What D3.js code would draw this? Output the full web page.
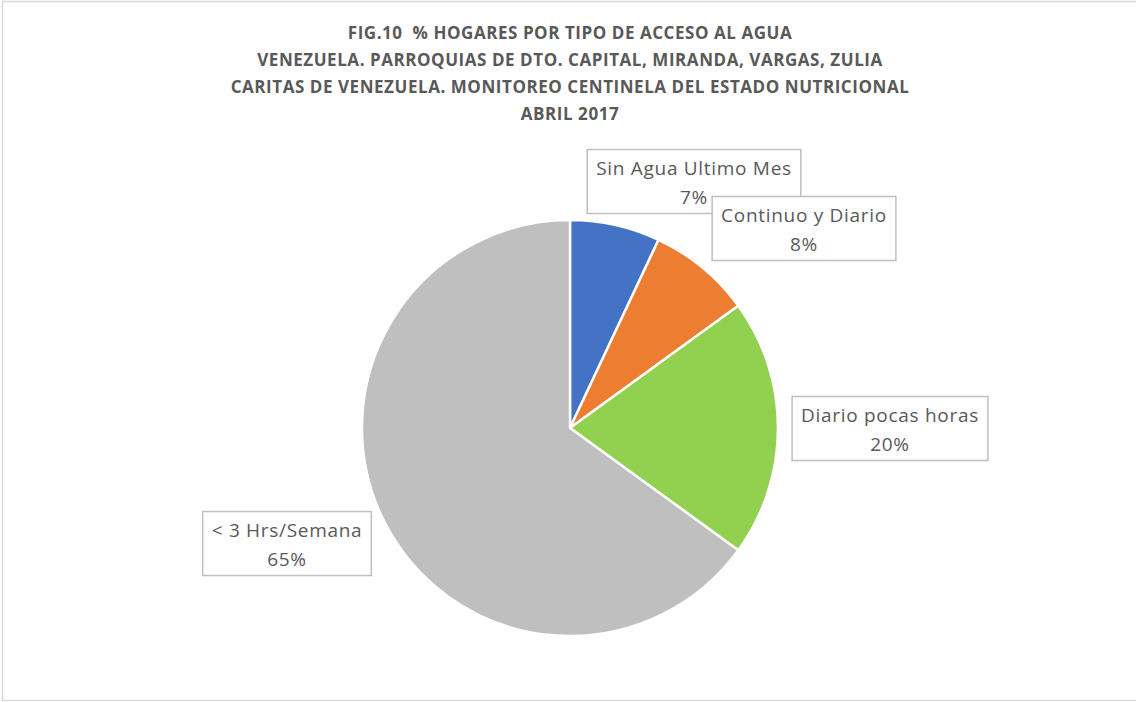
<!DOCTYPE html>
<html lang="es">
<head>
<meta charset="utf-8">
<title>FIG.10 % Hogares por tipo de acceso al agua</title>
<script src="https://cdn.jsdelivr.net/npm/d3@7"></script>
<style>
  body { margin: 0; background: #fff; }
  text { font-family: "Open Sans", "Noto Sans", sans-serif; fill: #595959; white-space: pre; }
</style>
</head>
<body>
<script>
// data
var categories = ["Sin Agua Ultimo Mes", "Continuo y Diario", "Diario pocas horas", "< 3 Hrs/Semana"];
var values = [7, 8, 20, 65];
var colors = ["#4472C4", "#ED7D31", "#92D050", "#BFBFBF"];
var titleLines = [
  "FIG.10  % HOGARES POR TIPO DE ACCESO AL AGUA",
  "VENEZUELA. PARROQUIAS DE DTO. CAPITAL, MIRANDA, VARGAS, ZULIA",
  "CARITAS DE VENEZUELA. MONITOREO CENTINELA DEL ESTADO NUTRICIONAL",
  "ABRIL 2017"
];

// layout
var w = 1136, h = 702;
var cx = 570, cy = 428, r = 208;
// label box centres, hand placed like the original
var labelPos = [[694, 181], [804, 228], [890, 428], [287, 543]];

var svg = d3.select("body").append("svg")
    .attr("width", w)
    .attr("height", h);

// chart area border
svg.append("rect")
    .attr("x", 2.5).attr("y", 1.5)
    .attr("width", w).attr("height", h - 3)
    .attr("fill", "none")
    .attr("stroke", "#d9d9d9")
    .attr("stroke-width", 1.5);

// title
svg.selectAll("text.title")
    .data(titleLines)
    .enter()
    .append("text")
    .attr("class", "title")
    .attr("x", 570)
    .attr("y", function(d, i) { return 39 + i * 27; })
    .attr("text-anchor", "middle")
    .attr("font-size", "17px")
    .attr("letter-spacing", "0.55px")
    .attr("font-weight", "bold")
    .text(function(d) { return d; });

// pie
var pie = d3.pie().sort(null).value(function(d) { return d; });
var arc = d3.arc().innerRadius(0).outerRadius(r);

var g = svg.append("g").attr("transform", "translate(" + cx + "," + cy + ")");

g.selectAll("path")
    .data(pie(values))
    .enter()
    .append("path")
    .attr("d", arc)
    .attr("fill", function(d, i) { return colors[i]; })
    .attr("stroke", "#fff")
    .attr("stroke-width", 2.5)
    .attr("stroke-linejoin", "round");

// data labels (box + two lines)
var labels = svg.selectAll("g.label")
    .data(categories)
    .enter()
    .append("g")
    .attr("class", "label")
    .attr("transform", function(d, i) { return "translate(" + labelPos[i][0] + "," + labelPos[i][1] + ")"; });

labels.each(function(d, i) {
    var lg = d3.select(this);
    var box = lg.append("rect").attr("fill", "#fff").attr("stroke", "#bfbfbf").attr("stroke-width", 1.5);
    var t1 = lg.append("text").attr("text-anchor", "middle").attr("y", -6).attr("font-size", "19px")
        .attr("letter-spacing", "0.7px").text(d);
    var t2 = lg.append("text").attr("text-anchor", "middle").attr("y", 23).attr("font-size", "19px")
        .attr("letter-spacing", "0.7px").text(values[i] + "%");
    var tw = Math.max(t1.node().getComputedTextLength(), t2.node().getComputedTextLength());
    box.attr("x", -tw / 2 - 9).attr("y", -31.5).attr("width", tw + 18).attr("height", 64);
});
</script>
</body>
</html>
